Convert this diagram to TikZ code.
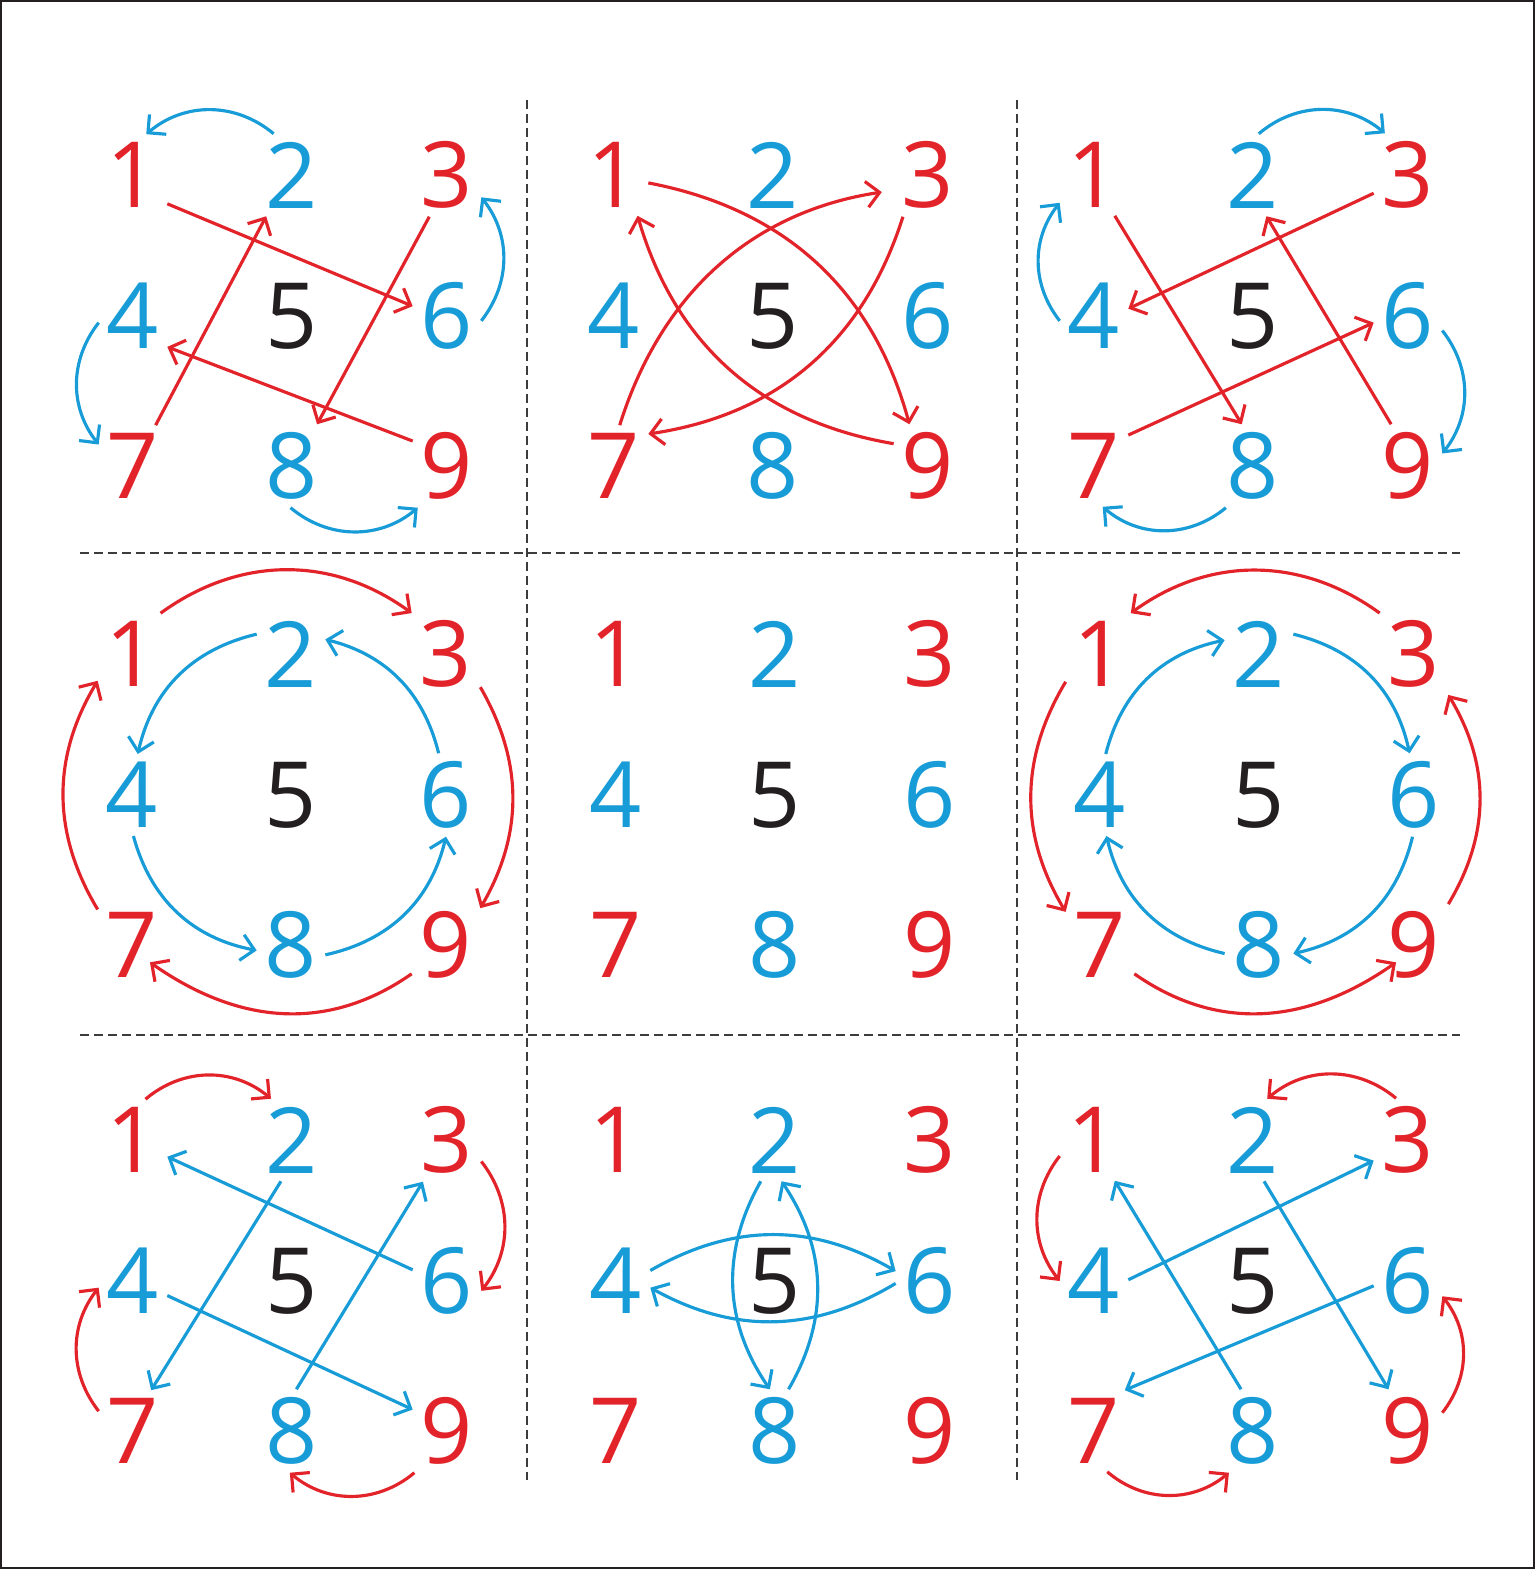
\documentclass[tikz,border=0pt]{standalone}
\usepackage{fontspec}
\setmainfont{Open Sans}
\usepackage{tikz}
\usetikzlibrary{arrows.meta}
\definecolor{numred}{RGB}{226,35,42}
\definecolor{numblue}{RGB}{24,156,215}
\definecolor{numdark}{RGB}{35,31,32}
\definecolor{cutgray}{RGB}{60,60,60}

\begin{document}
\begin{tikzpicture}[
  digit/.style={inner sep=0.75mm, font=\fontsize{26}{30}\selectfont},
  rednum/.style={digit, text=numred},
  bluenum/.style={digit, text=numblue},
  darknum/.style={digit, text=numdark},
  redarr/.style={draw=numred, line width=0.9pt, -{Straight Barb[length=1.3mm,width=2.6mm]}},
  bluearr/.style={draw=numblue, line width=0.9pt, -{Straight Barb[length=1.3mm,width=2.6mm]}},
  cutline/.style={cutgray, line width=0.35pt, dash pattern=on 0.9mm off 0.5mm}
]
\useasboundingbox (0,0) rectangle (15.35,15.69);
\draw[numdark, line width=0.5pt] (0.01,0.01) rectangle (15.34,15.68);

\draw[cutline] (5.27,14.69) -- (5.27,0.89);
\draw[cutline] (10.17,14.69) -- (10.17,0.89);
\draw[cutline] (0.80,10.16) -- (14.60,10.16);
\draw[cutline] (0.80,5.34) -- (14.60,5.34);

\foreach \p/\x/\y in {a/1.33/13.94, b/6.14/13.94, c/10.94/13.94, d/1.32/9.15, e/6.16/9.15, f/11.00/9.15, g/1.33/4.29, h/6.16/4.29, i/10.94/4.29}{
  \node[rednum]  (\p1) at (\x,\y) {1};
  \node[bluenum] (\p2) at (\x+1.59,\y) {2};
  \node[rednum]  (\p3) at (\x+3.14,\y) {3};
  \node[bluenum] (\p4) at (\x,\y-1.41) {4};
  \node[darknum] (\p5) at (\x+1.59,\y-1.41) {5};
  \node[bluenum] (\p6) at (\x+3.14,\y-1.41) {6};
  \node[rednum]  (\p7) at (\x,\y-2.91) {7};
  \node[bluenum] (\p8) at (\x+1.59,\y-2.91) {8};
  \node[rednum]  (\p9) at (\x+3.14,\y-2.91) {9};
}

\draw[redarr] (a1.320) -- (a6.164);
\draw[redarr] (a7.61) -- (a2.238);
\draw[redarr] (a3.247) -- (a8.59);
\draw[redarr] (a9.144) -- (a4.318);
\draw[bluearr] (a2.114) to[bend right=40] (a1.72);
\draw[bluearr] (a6.352) to[bend right=38] (a3.327);
\draw[bluearr] (a4.191) to[bend right=38] (a7.148);
\draw[bluearr] (a8.268) to[bend right=40] (a9.235);

\draw[redarr] (b1.347) to[bend left=32] (b9.114);
\draw[redarr] (b9.147) to[bend left=32] (b1.300);
\draw[redarr, shorten >=1.2mm] (b7.82) to[bend left=32] (b3.204);
\draw[redarr] (b3.239) to[bend left=32] (b7.43);

\draw[redarr] (c1.297) -- (c8.105);
\draw[redarr] (c3.208) -- (c4.12);
\draw[redarr] (c9.112) -- (c2.288);
\draw[redarr] (c7.42) -- (c6.191);
\draw[bluearr] (c2.82) to[bend left=40] (c3.119);
\draw[bluearr] (c6.337) to[bend left=38] (c9.20);
\draw[bluearr] (c8.237) to[bend left=40] (c7.282);
\draw[bluearr] (c4.188) to[bend left=38] (c1.219);

\draw[redarr] (d1.55) to[bend left=36] (d3.130);
\draw[redarr] (d3.316) to[bend left=30] (d9.47);
\draw[redarr, shorten >=-2mm] (d9.220) to[bend left=35] (d7.320);
\draw[redarr] (d7.134) to[bend left=31] (d1.218);
\draw[bluearr] (d2.150) to[bend right=32] (d4.82);
\draw[bluearr] (d4.272) to[bend right=32] (d8.189);
\draw[bluearr] (d8.344) to[bend right=32] (d6.270);
\draw[bluearr] (d6.100) to[bend right=31] (d2.23);

\draw[redarr] (f3.130) to[bend right=36] (f1.53);
\draw[redarr] (f1.219) to[bend right=31] (f7.136);
\draw[redarr, shorten >=-2mm] (f7.320) to[bend right=35] (f9.220);
\draw[redarr] (f9.50) to[bend right=31] (f3.310);
\draw[bluearr] (f4.82) to[bend left=32] (f2.158);
\draw[bluearr] (f2.30) to[bend left=32] (f6.96);
\draw[bluearr] (f6.268) to[bend left=32] (f8.346);
\draw[bluearr] (f8.194) to[bend left=32] (f4.279);

\draw[bluearr] (g6.162) -- (g1.334);
\draw[bluearr] (g2.255) -- (g7.66);
\draw[bluearr] (g8.84) -- (g3.240);
\draw[bluearr] (g4.337) -- (g9.148);
\draw[redarr] (g1.73) to[bend left=40] (g2.117);
\draw[redarr] (g3.328) to[bend left=38] (g6.344);
\draw[redarr] (g9.232) to[bend left=40] (g8.267);
\draw[redarr] (g7.150) to[bend left=38] (g4.191);

\draw[bluearr] (h2.251) to[bend right=32] (h8.97);
\draw[bluearr] (h8.72) to[bend right=32] (h2.279);
\draw[bluearr] (h4.17) to[bend left=30] (h6.164);
\draw[bluearr] (h6.184) to[bend left=30] (h4.349);

\draw[bluearr] (i8.106) -- (i1.297);
\draw[bluearr] (i4.2) -- (i3.211);
\draw[bluearr] (i2.285) -- (i9.115);
\draw[bluearr] (i6.188) -- (i7.53);
\draw[redarr] (i3.106) to[bend right=40] (i2.71);
\draw[redarr] (i1.205) to[bend right=38] (i4.180);
\draw[redarr] (i7.288) to[bend right=40] (i8.240);
\draw[redarr] (i9.28) to[bend right=38] (i6.336);
\end{tikzpicture}
\end{document}
